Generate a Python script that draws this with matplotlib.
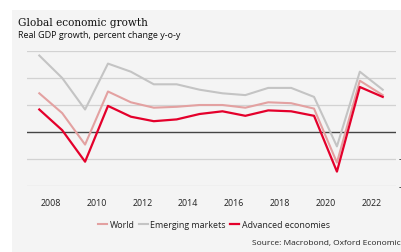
import numpy as np
import matplotlib.pyplot as plt
from matplotlib.patches import Rectangle

plt.rcParams['font.family'] = 'Open Sans'

# ============================================================
# Data (real GDP growth, % y-o-y)
# ============================================================
years = np.arange(2007, 2023)
world = [4.3, 2.1, -1.4, 4.5, 3.3, 2.7, 2.8, 3.0, 3.0, 2.7, 3.3, 3.2, 2.6, -3.4, 5.7, 4.1]
emerging = [8.5, 6.0, 2.5, 7.6, 6.7, 5.3, 5.3, 4.7, 4.3, 4.1, 4.9, 4.9, 3.9, -1.6, 6.7, 4.7]
advanced = [2.5, 0.2, -3.3, 2.9, 1.7, 1.2, 1.4, 2.0, 2.3, 1.8, 2.4, 2.3, 1.8, -4.4, 5.0, 3.9]

tick_years = [2008, 2010, 2012, 2014, 2016, 2018, 2020, 2022]
y_ticks = [-6, -3, 0, 3, 6, 9]

colors = {
    "World": "#E3A1A1",
    "Emerging markets": "#C4C4C4",
    "Advanced economies": "#E4002B",
}

fig = plt.figure(figsize=(4.01, 2.52), dpi=100)
fig.patch.set_facecolor("white")
fig.patches.append(Rectangle((12 / 401, 0), 1, 1 - 10 / 252, transform=fig.transFigure,
                             facecolor="#F4F4F4", edgecolor="none", zorder=-10))

ax = fig.add_axes([26.7 / 401, 1 - 186 / 252, (396 - 26.7) / 401, (186 - 51) / 252])
ax.set_facecolor("none")

# annual values plotted at year end
x = years + 1
ax.plot(x, emerging, color=colors["Emerging markets"], lw=1.5, label="Emerging markets", zorder=3)
ax.plot(x, world, color=colors["World"], lw=1.5, label="World", zorder=4)
ax.plot(x, advanced, color=colors["Advanced economies"], lw=1.6, label="Advanced economies", zorder=5)

for v in y_ticks:
    if v == 0:
        ax.axhline(v, color="#444444", lw=1.0, zorder=2)
    else:
        ax.axhline(v, color="#D2D2D2", lw=0.9, zorder=1)

ax.set_xlim(2007.45, 2023.58)
ax.set_ylim(-6, 9)
ax.set_xticks([y + 0.5 for y in tick_years])
ax.set_xticklabels([str(y) for y in tick_years])
# right-hand value labels (right-aligned) sit mostly past the image edge, as in the original
ax.yaxis.tick_right()
ax.set_yticks(y_ticks)
ax.set_yticklabels([str(v) for v in y_ticks])
ax.tick_params(axis="x", length=0, pad=9, labelsize=6.4, colors="#222222")
ax.tick_params(axis="y", length=0, pad=7.4, labelsize=6.4, colors="#222222")
for lab in ax.get_yticklabels():
    lab.set_horizontalalignment("right")
for s in ax.spines.values():
    s.set_visible(False)

fig.text(18 / 401, 1 - 23 / 252, "Global economic growth", family="DejaVu Serif",
         fontsize=7.6, color="#111111", va="center", ha="left")
fig.text(18 / 401, 1 - 36 / 252, "Real GDP growth, percent change y-o-y",
         fontsize=6.5, color="#111111", va="center", ha="left")

handles, labels = ax.get_legend_handles_labels()
order = [1, 0, 2]
fig.legend([handles[i] for i in order], [labels[i] for i in order],
           loc="center", bbox_to_anchor=(214 / 401, 1 - 225 / 252), ncol=3,
           frameon=False, fontsize=6.4, handlelength=1.0, handletextpad=0.3,
           columnspacing=0.5, labelcolor="#222222")

fig.text(252 / 401, 1 - 244 / 252, "Source: Macrobond, Oxford Economics",
         fontsize=6.0, color="#222222", va="center", ha="left")

fig.savefig("out.png", dpi=100)
